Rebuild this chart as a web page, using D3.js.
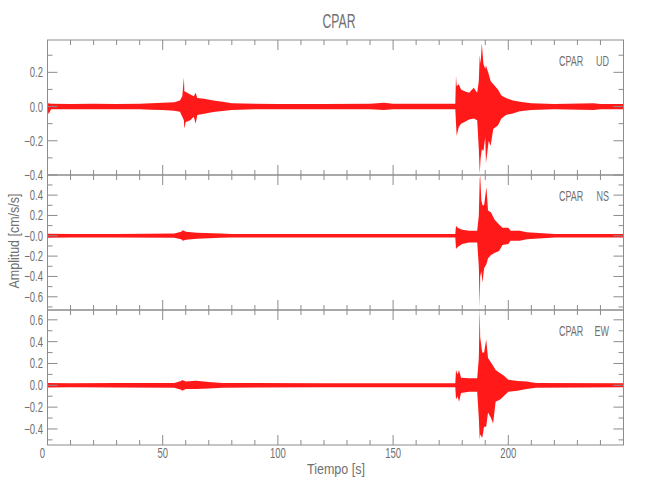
<!DOCTYPE html>
<html>
<head>
<meta charset="utf-8">
<script src="https://cdn.jsdelivr.net/npm/d3@7"></script>
<style>
  body { margin: 0; background: #fff; }
  text { font-family: "Liberation Sans", Arial, sans-serif; fill: #707070; }
</style>
</head>
<body>
<svg width="650" height="500"></svg>
<script>
const station = "CPAR";
const components = ["UD", "NS", "EW"];

// envelope of each trace: time (s), upper and lower amplitude (cm/s/s)
const udTime = [0, 0.5, 1.5, 10, 20, 30, 40, 45, 50, 55, 57.5, 58.5, 59.2, 59.4, 60, 62, 63.5, 64.3, 65, 68, 72, 76, 80, 90, 100, 120, 140, 146, 150, 160, 170, 177,
  177.3, 177.6, 178.5, 179.5, 181, 183, 185, 186.5, 187.2, 187.6, 188, 188.5, 189.2, 190, 190.3, 191.5, 192.3, 193.5, 195.5, 197, 199, 202, 205, 210, 220, 237, 240, 250];
const udHigh = [0.016, 0.02, 0.016, 0.015, 0.016, 0.015, 0.016, 0.02, 0.022, 0.025, 0.035, 0.06, 0.17, 0.09, 0.085, 0.07, 0.06, 0.08, 0.05, 0.045, 0.035, 0.028, 0.02, 0.016, 0.015, 0.015, 0.016, 0.022, 0.016, 0.016, 0.016, 0.016,
  0.18, 0.12, 0.13, 0.1, 0.09, 0.08, 0.11, 0.08, 0.15, 0.3, 0.25, 0.37, 0.25, 0.22, 0.24, 0.19, 0.15, 0.13, 0.1, 0.065, 0.05, 0.035, 0.028, 0.02, 0.015, 0.02, 0.015, 0.015];
const udLow = [-0.016, -0.045, -0.016, -0.015, -0.015, -0.016, -0.016, -0.018, -0.02, -0.025, -0.03, -0.06, -0.08, -0.13, -0.09, -0.08, -0.06, -0.1, -0.05, -0.042, -0.032, -0.026, -0.02, -0.016, -0.015, -0.015, -0.016, -0.02, -0.016, -0.016, -0.016, -0.016,
  -0.1, -0.17, -0.12, -0.1, -0.09, -0.075, -0.07, -0.08, -0.25, -0.39, -0.3, -0.25, -0.26, -0.18, -0.33, -0.2, -0.23, -0.13, -0.11, -0.07, -0.05, -0.04, -0.028, -0.02, -0.016, -0.02, -0.015, -0.015];

const nsTime = [0, 10, 30, 55, 58, 58.8, 60, 65, 75, 80, 120, 160, 177,
  177.3, 178, 180, 183, 186.5, 187.2, 187.6, 187.8, 188.3, 188.8, 189.5, 190.5, 191.2, 192.5, 194, 196, 197.5, 200, 201, 205, 208, 215, 220, 250];
const nsHigh = [0.02, 0.018, 0.018, 0.022, 0.04, 0.055, 0.04, 0.03, 0.022, 0.018, 0.018, 0.018, 0.018,
  0.1, 0.08, 0.06, 0.05, 0.05, 0.2, 0.56, 0.59, 0.35, 0.3, 0.3, 0.48, 0.25, 0.23, 0.16, 0.11, 0.08, 0.08, 0.05, 0.05, 0.035, 0.025, 0.018, 0.018];
const nsLow = [-0.02, -0.018, -0.018, -0.02, -0.035, -0.048, -0.04, -0.03, -0.02, -0.018, -0.018, -0.018, -0.018,
  -0.13, -0.11, -0.08, -0.065, -0.065, -0.3, -0.7, -0.4, -0.35, -0.46, -0.32, -0.28, -0.22, -0.19, -0.17, -0.15, -0.09, -0.08, -0.05, -0.05, -0.035, -0.025, -0.018, -0.018];

const ewTime = [0, 10, 30, 55, 58, 58.5, 60, 64.5, 70, 76, 120, 160, 177,
  177.3, 178, 178.6, 179.5, 183, 186.5, 187.2, 187.6, 187.8, 188.7, 189.5, 190.4, 191.2, 192.5, 193.4, 194.5, 196.5, 198, 200, 204, 208, 212, 250];
const ewHigh = [0.02, 0.018, 0.02, 0.022, 0.04, 0.048, 0.035, 0.042, 0.03, 0.022, 0.018, 0.018, 0.018,
  0.14, 0.1, 0.14, 0.07, 0.064, 0.065, 0.25, 0.72, 0.44, 0.3, 0.3, 0.42, 0.25, 0.21, 0.18, 0.14, 0.11, 0.09, 0.05, 0.04, 0.035, 0.022, 0.018];
const ewLow = [-0.02, -0.018, -0.02, -0.022, -0.04, -0.05, -0.035, -0.035, -0.03, -0.022, -0.018, -0.018, -0.018,
  -0.13, -0.1, -0.15, -0.07, -0.058, -0.06, -0.3, -0.5, -0.45, -0.48, -0.38, -0.38, -0.25, -0.3, -0.35, -0.15, -0.13, -0.1, -0.06, -0.05, -0.035, -0.022, -0.018];

const traces = [
  { time: udTime, high: udHigh, low: udLow },
  { time: nsTime, high: nsHigh, low: nsLow },
  { time: ewTime, high: ewHigh, low: ewLow }
];

const yDomains = [[-0.40, 0.389], [-0.73, 0.598], [-0.547, 0.69]];
const yTickValues = [[-0.4, -0.2, 0.0, 0.2], [-0.6, -0.4, -0.2, 0.0, 0.2, 0.4], [-0.4, -0.2, 0.0, 0.2, 0.4, 0.6]];
const yTickLabels = [["\u22120.4", "\u22120.2", "0.0", "0.2"],
                     ["\u22120.6", "\u22120.4", "\u22120.2", "\u22120.0", "0.2", "0.4"],
                     ["\u22120.4", "\u22120.2", "0.0", "0.2", "0.4", "0.6"]];
const xTickValues = [0, 50, 100, 150, 200];

const plotLeft = 47.5, plotRight = 623.5, plotTop = 40, plotBottom = 445;
const panelH = (plotBottom - plotTop) / 3;
const frame = "#8c8c8c";

const svg = d3.select("svg");
const x = d3.scaleLinear().domain([0, 250]).range([plotLeft, plotRight]);

// narrow text, like the plotting program's stroke font
function label(px, py, str, size, anchor, sx) {
  return svg.append("text")
    .attr("transform", `translate(${px},${py}) scale(${sx},1)`)
    .attr("text-anchor", anchor)
    .style("font-size", size + "px")
    .text(str);
}

label(339, 28, station, 21, "middle", 0.58);

components.forEach((comp, i) => {
  const pTop = plotTop + i * panelH, pBot = pTop + panelH;
  const y = d3.scaleLinear().domain(yDomains[i]).range([pBot, pTop]);
  const g = svg.append("g");
  const tr = traces[i];
  const pts = tr.time.map((t, k) => ({ t: t, hi: tr.high[k], lo: tr.low[k] }));

  // trace envelope
  g.append("path")
    .datum(pts)
    .attr("fill", "#ff0000")
    .attr("fill-opacity", 0.9)
    .attr("d", d3.area().x(d => x(d.t)).y0(d => y(d.lo)).y1(d => y(d.hi)));

  // frame
  g.append("rect").attr("x", plotLeft).attr("y", pTop).attr("width", plotRight - plotLeft).attr("height", panelH)
    .attr("fill", "none").attr("stroke", frame).attr("stroke-width", 1);

  // x ticks every 10 s, top and bottom, inward
  d3.range(10, 250, 10).forEach(t => {
    const len = t % 50 === 0 ? 10 : 5;
    g.append("line").attr("x1", x(t)).attr("x2", x(t)).attr("y1", pTop).attr("y2", pTop + len).attr("stroke", frame);
    g.append("line").attr("x1", x(t)).attr("x2", x(t)).attr("y1", pBot).attr("y2", pBot - len).attr("stroke", frame);
  });

  // y ticks every 0.1, left and right, inward
  const d = yDomains[i];
  d3.range(Math.ceil(d[0] * 10 - 1e-6), Math.floor(d[1] * 10 + 1e-6) + 1).forEach(k => {
    const len = k % 2 === 0 ? 10 : 5;
    const yy = y(k / 10);
    g.append("line").attr("x1", plotLeft).attr("x2", plotLeft + len).attr("y1", yy).attr("y2", yy).attr("stroke", frame);
    g.append("line").attr("x1", plotRight).attr("x2", plotRight - len).attr("y1", yy).attr("y2", yy).attr("stroke", frame);
  });

  yTickValues[i].forEach((v, k) => {
    label(43, y(v) + 5, yTickLabels[i][k], 14, "end", 0.68);
  });

  label(559, pTop + 26, station, 15, "start", 0.6);
  label(609, pTop + 26, comp, 15, "end", 0.6);
});

xTickValues.forEach(t => {
  label(x(t) - (t === 0 ? 5 : 0), 458, t, 14, "middle", 0.68);
});

svg.append("text").attr("x", 336).attr("y", 474).attr("text-anchor", "middle")
  .attr("textLength", 58).attr("lengthAdjust", "spacingAndGlyphs")
  .style("font-size", "14px").text("Tiempo [s]");

svg.append("text").attr("transform", "translate(19,241) rotate(-90)").attr("text-anchor", "middle")
  .attr("textLength", 95).attr("lengthAdjust", "spacingAndGlyphs")
  .style("font-size", "14px").text("Amplitud [cm/s/s]");
</script>
</body>
</html>
